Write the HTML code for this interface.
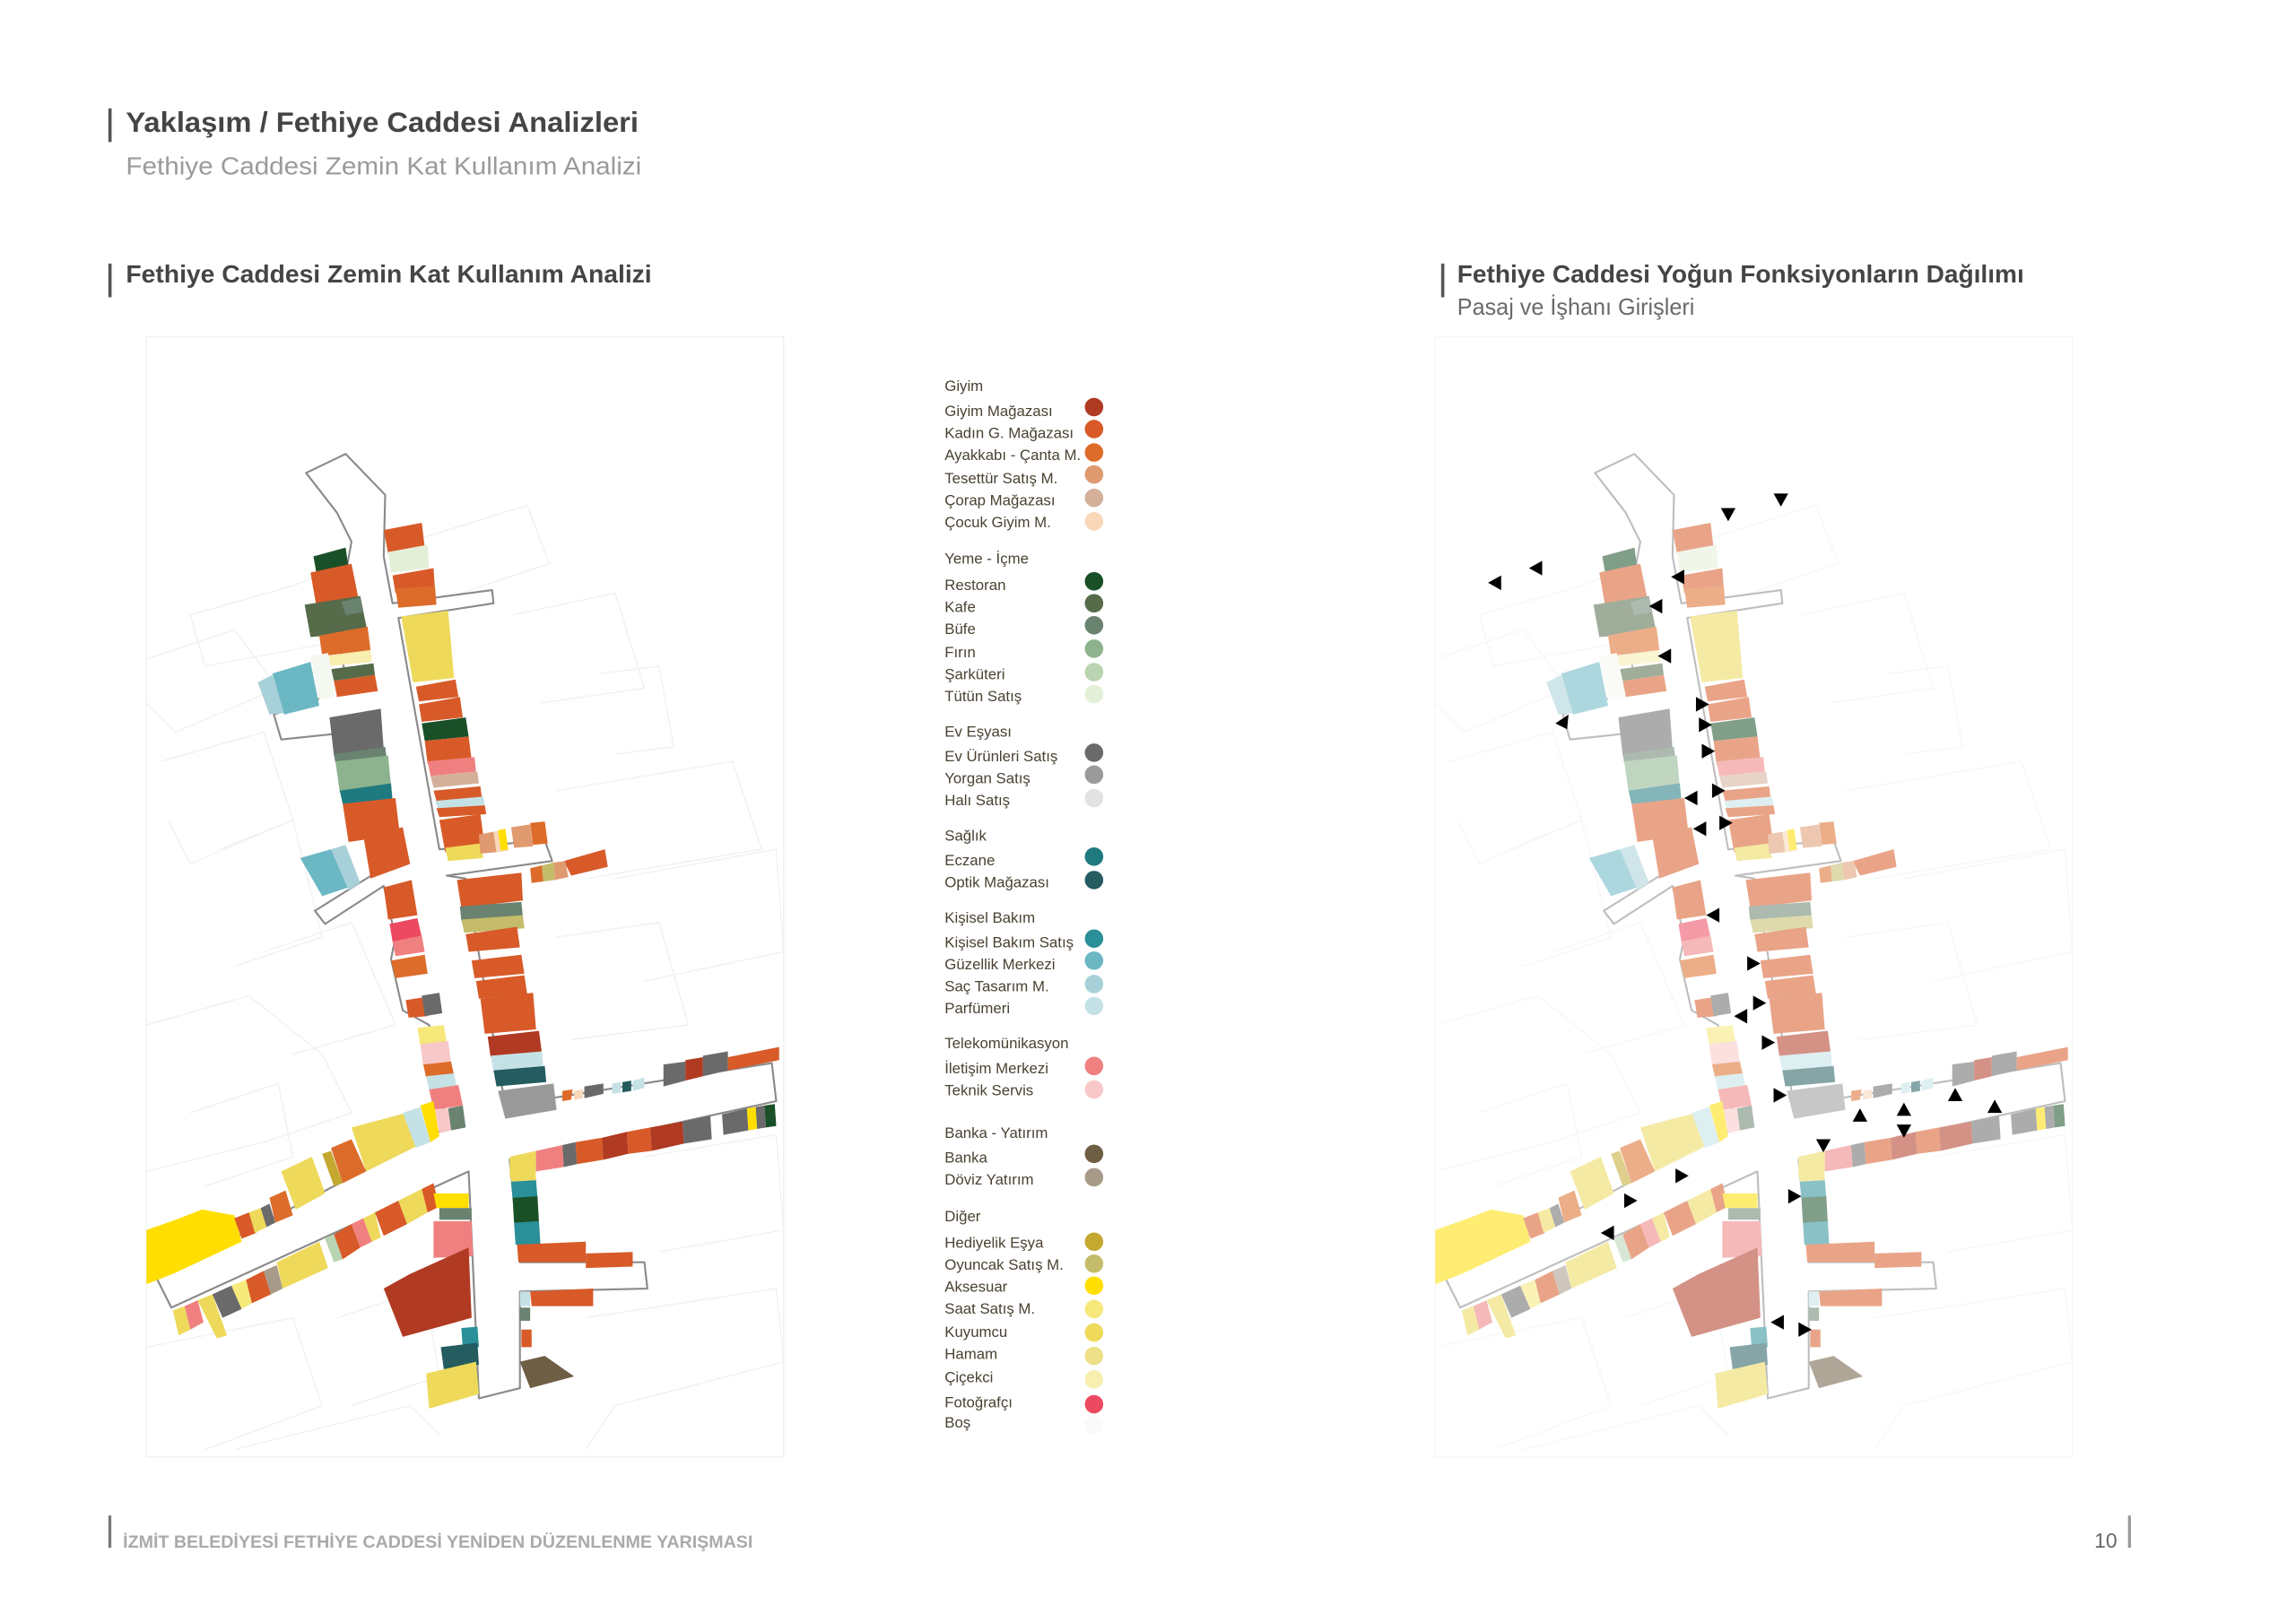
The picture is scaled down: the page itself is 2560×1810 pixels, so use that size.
<!DOCTYPE html>
<html><head><meta charset="utf-8">
<style>
html,body{margin:0;padding:0;background:#fff;}
svg{display:block;}
text{font-family:"Liberation Sans","DejaVu Sans",sans-serif;}
</style></head>
<body>
<svg width="2560" height="1810" viewBox="0 0 1567.7 1108.4" preserveAspectRatio="none" xmlns="http://www.w3.org/2000/svg">
<rect width="1567.7" height="1108.4" fill="#fff"/>
<rect x="74" y="74" width="2.2" height="23" fill="#555"/>
<text x="86" y="90" font-size="19.5" fill="#454545" font-weight="bold" textLength="350" lengthAdjust="spacingAndGlyphs">Yaklaşım / Fethiye Caddesi Analizleri</text>
<text x="86" y="119" font-size="17" fill="#9a9a9a" textLength="352" lengthAdjust="spacingAndGlyphs">Fethiye Caddesi Zemin Kat Kullanım Analizi</text>
<rect x="74" y="180" width="2.2" height="23" fill="#555"/>
<text x="86" y="193" font-size="17" fill="#454545" font-weight="bold" textLength="359" lengthAdjust="spacingAndGlyphs">Fethiye Caddesi Zemin Kat Kullanım Analizi</text>
<rect x="984" y="180" width="2.2" height="23" fill="#555"/>
<text x="995" y="193" font-size="17" fill="#454545" font-weight="bold" textLength="387" lengthAdjust="spacingAndGlyphs">Fethiye Caddesi Yoğun Fonksiyonların Dağılımı</text>
<text x="995" y="215" font-size="16" fill="#6a6a6a" textLength="162" lengthAdjust="spacingAndGlyphs">Pasaj ve İşhanı Girişleri</text>
<rect x="74" y="1035" width="2" height="22" fill="#777"/>
<text x="84" y="1057" font-size="12" fill="#aaa" font-weight="bold" textLength="430" lengthAdjust="spacingAndGlyphs">İZMİT BELEDİYESİ FETHİYE CADDESİ YENİDEN DÜZENLENME YARIŞMASI</text>
<text x="1430" y="1057" font-size="14" fill="#666">10</text>
<rect x="1453" y="1035" width="2" height="22" fill="#999"/>

<g font-size="10.3" fill="#4a4232">
<text x="645" y="267">Giyim</text>
<text x="645" y="284">Giyim Mağazası</text><circle cx="747" cy="278" r="6.3" fill="#b03a22"/>
<text x="645" y="299">Kadın G. Mağazası</text><circle cx="747" cy="293" r="6.3" fill="#d85a28"/>
<text x="645" y="314">Ayakkabı - Çanta M.</text><circle cx="747" cy="309" r="6.3" fill="#dd6c2a"/>
<text x="645" y="330">Tesettür Satış M.</text><circle cx="747" cy="324" r="6.3" fill="#e09a70"/>
<text x="645" y="345">Çorap Mağazası</text><circle cx="747" cy="340" r="6.3" fill="#d4b09a"/>
<text x="645" y="360">Çocuk Giyim M.</text><circle cx="747" cy="356" r="6.3" fill="#f8d8b8"/>
<text x="645" y="385">Yeme - İçme</text>
<text x="645" y="403">Restoran</text><circle cx="747" cy="397" r="6.3" fill="#1a5028"/>
<text x="645" y="418">Kafe</text><circle cx="747" cy="412" r="6.3" fill="#556b4a"/>
<text x="645" y="433">Büfe</text><circle cx="747" cy="427" r="6.3" fill="#6a8270"/>
<text x="645" y="449">Fırın</text><circle cx="747" cy="443" r="6.3" fill="#8db38e"/>
<text x="645" y="464">Şarküteri</text><circle cx="747" cy="459" r="6.3" fill="#b8d4b0"/>
<text x="645" y="479">Tütün Satış</text><circle cx="747" cy="474" r="6.3" fill="#e4efd8"/>
<text x="645" y="503">Ev Eşyası</text>
<text x="645" y="520">Ev Ürünleri Satış</text><circle cx="747" cy="514" r="6.3" fill="#6a6a6a"/>
<text x="645" y="535">Yorgan Satış</text><circle cx="747" cy="529" r="6.3" fill="#9a9a9a"/>
<text x="645" y="550">Halı Satış</text><circle cx="747" cy="545" r="6.3" fill="#e2e2e2"/>
<text x="645" y="574">Sağlık</text>
<text x="645" y="591">Eczane</text><circle cx="747" cy="585" r="6.3" fill="#1f7a80"/>
<text x="645" y="606">Optik Mağazası</text><circle cx="747" cy="601" r="6.3" fill="#245c60"/>
<text x="645" y="630">Kişisel Bakım</text>
<text x="645" y="647">Kişisel Bakım Satış</text><circle cx="747" cy="641" r="6.3" fill="#2a8f98"/>
<text x="645" y="662">Güzellik Merkezi</text><circle cx="747" cy="656" r="6.3" fill="#6bb8c4"/>
<text x="645" y="677">Saç Tasarım M.</text><circle cx="747" cy="672" r="6.3" fill="#a8d0d8"/>
<text x="645" y="692">Parfümeri</text><circle cx="747" cy="687" r="6.3" fill="#c4e2e6"/>
<text x="645" y="716">Telekomünikasyon</text>
<text x="645" y="733">İletişim Merkezi</text><circle cx="747" cy="728" r="6.3" fill="#f08080"/>
<text x="645" y="748">Teknik Servis</text><circle cx="747" cy="744" r="6.3" fill="#f8c8c8"/>
<text x="645" y="777">Banka - Yatırım</text>
<text x="645" y="794">Banka</text><circle cx="747" cy="788" r="6.3" fill="#6e5e44"/>
<text x="645" y="809">Döviz Yatırım</text><circle cx="747" cy="804" r="6.3" fill="#a89a88"/>
<text x="645" y="834">Diğer</text>
<text x="645" y="852">Hediyelik Eşya</text><circle cx="747" cy="848" r="6.3" fill="#c4a830"/>
<text x="645" y="867">Oyuncak Satış M.</text><circle cx="747" cy="863" r="6.3" fill="#c4bc6a"/>
<text x="645" y="882">Aksesuar</text><circle cx="747" cy="878" r="6.3" fill="#ffde00"/>
<text x="645" y="897">Saat Satış M.</text><circle cx="747" cy="894" r="6.3" fill="#f6e87a"/>
<text x="645" y="913">Kuyumcu</text><circle cx="747" cy="910" r="6.3" fill="#eed95a"/>
<text x="645" y="928">Hamam</text><circle cx="747" cy="926" r="6.3" fill="#ede088"/>
<text x="645" y="944">Çiçekci</text><circle cx="747" cy="942" r="6.3" fill="#f7eeb0"/>
<text x="645" y="961">Fotoğrafçı</text><circle cx="747" cy="959" r="6.3" fill="#ec4a60"/>
<text x="645" y="975">Boş</text><circle cx="747" cy="973" r="6.3" fill="#fafafa"/>
</g>

<defs>
<g id="map">
<g fill="none" stroke="#f0f0f0" stroke-width="0.8">
<rect x="100" y="230" width="435" height="765"/>
<polyline points="130,420 200,400 280,370 360,345 375,385 300,410 220,440 140,455 130,420"/>
<polyline points="100,450 160,430 190,470 120,500 100,480"/>
<polyline points="110,520 180,500 200,560 130,590 115,560"/>
<polyline points="150,580 200,560 220,640 160,660"/>
<polyline points="180,650 240,630 270,700 200,720"/>
<polyline points="350,420 420,405 440,470 370,480"/>
<polyline points="410,460 450,455 460,510 420,515"/>
<polyline points="380,540 500,520 520,580 400,600"/>
<polyline points="420,600 530,580 535,650 440,670"/>
<polyline points="380,640 450,630 470,700 390,710"/>
<polyline points="100,700 170,680 220,720 240,760 180,780 100,800"/>
<polyline points="130,760 190,740 200,790 140,810"/>
<polyline points="100,920 200,900 220,960 140,990"/>
<polyline points="160,990 280,960 300,980"/>
<polyline points="400,900 530,880 535,930 420,960 400,990"/>
<polyline points="440,790 530,775 535,840 450,855"/>
<polyline points="230,900 290,880 300,940 240,960"/>
</g>
<g fill="#fff" stroke="#8a8a8a" stroke-width="1.3" stroke-linejoin="round">
<polygon points="209,323 236,310 263,338 262,380 268,412 336,403 337,412 272,422 300,580 372,574 377,588 305,598 318,600 345,755 527,726 530,752 348,792 355,862 440,862 442,880 355,882 355,948 327,955 320,800 117,893 107,873 305,770 293,700 275,690 267,655 270,640 262,605 222,631 215,622 255,597 240,500 192,505 187,488 238,470 229,430 240,370 230,350"/>
</g>
<g stroke="none">
<polygon fill="#1a5028" points="214,380 236,374 238,388 216,391"/>
<polygon fill="#d85a28" points="212,391 240,385 245,410 216,414"/>
<polygon fill="#556b4a" points="208,413 246,407 251,432 212,435"/>
<polygon fill="#6a8270" points="233,411 246,408 248,418 236,420"/>
<polygon fill="#dd6c2a" points="218,434 251,428 253,444 220,448"/>
<polygon fill="#f7eeb0" points="222,448 253,444 254,452 224,455"/>
<polygon fill="#556b4a" points="226,457 255,453 256,461 228,465"/>
<polygon fill="#d85a28" points="228,465 256,461 258,472 230,476"/>
<polygon fill="#6bb8c4" points="186,460 212,452 218,482 194,488"/>
<polygon fill="#a8d0d8" points="176,466 186,461 194,487 184,488"/>
<polygon fill="#f6f8f2" points="212,448 224,446 230,475 218,478"/>
<polygon fill="#d85a28" points="262,362 288,357 290,374 265,378"/>
<polygon fill="#e4efd8" points="265,377 292,372 293,388 267,391"/>
<polygon fill="#d85a28" points="268,393 296,388 297,402 270,405"/>
<polygon fill="#dd6c2a" points="270,402 297,400 298,413 272,415"/>
<polygon fill="#eed95a" points="274,421 306,417 310,463 282,466"/>
<polygon fill="#d85a28" points="284,469 311,464 313,476 286,479"/>
<polygon fill="#d85a28" points="286,481 314,476 316,490 288,493"/>
<polygon fill="#1a5028" points="288,494 318,490 320,503 290,506"/>
<polygon fill="#d85a28" points="290,506 320,503 322,519 292,522"/>
<polygon fill="#f08080" points="292,520 324,517 325,527 294,530"/>
<polygon fill="#d4b09a" points="294,530 326,527 327,535 296,538"/>
<polygon fill="#d85a28" points="296,540 328,537 329,545 298,547"/>
<polygon fill="#c4e2e6" points="297,547 330,544 331,550 299,552"/>
<polygon fill="#d85a28" points="298,552 331,550 332,556 300,558"/>
<polygon fill="#d85a28" points="300,560 328,556 331,578 304,582"/>
<polygon fill="#eed95a" points="304,579 328,576 330,586 306,588"/>
<polygon fill="#e09a70" points="327,570 337,568 339,582 328,583"/>
<polygon fill="#f8d8b8" points="337,568 345,567 347,581 339,582"/>
<polygon fill="#ffde00" points="340,567 345,566 347,580 342,581"/>
<polygon fill="#e09a70" points="349,565 362,563 364,578 351,579"/>
<polygon fill="#dd6c2a" points="362,562 372,561 374,576 364,577"/>
<polygon fill="#6a6a6a" points="225,490 260,484 262,512 228,516"/>
<polygon fill="#6a8270" points="228,515 263,510 264,518 229,521"/>
<polygon fill="#8db38e" points="229,520 265,516 267,537 232,541"/>
<polygon fill="#1f7a80" points="232,540 267,535 268,546 234,549"/>
<polygon fill="#d85a28" points="234,549 270,545 273,570 238,575"/>
<polygon fill="#d85a28" points="248,570 275,565 280,590 253,600"/>
<polygon fill="#6bb8c4" points="205,586 226,580 238,606 220,612"/>
<polygon fill="#a8d0d8" points="226,580 236,577 246,603 238,608"/>
<polygon fill="#d85a28" points="385,588 413,580 415,592 390,598"/>
<polygon fill="#dd6c2a" points="362,593 370,591 371,602 363,603"/>
<polygon fill="#c4bc6a" points="370,591 378,589 379,601 371,602"/>
<polygon fill="#e09a70" points="378,589 386,588 388,599 379,601"/>
<polygon fill="#d85a28" points="312,601 356,596 357,615 315,620"/>
<polygon fill="#6a8270" points="314,619 356,616 357,626 315,629"/>
<polygon fill="#c4bc6a" points="315,628 357,625 358,634 317,637"/>
<polygon fill="#d85a28" points="318,638 353,633 355,647 320,650"/>
<polygon fill="#d85a28" points="322,656 356,652 358,665 324,668"/>
<polygon fill="#d85a28" points="325,670 358,666 360,679 327,682"/>
<polygon fill="#d85a28" points="328,682 364,678 366,703 331,706"/>
<polygon fill="#b03a22" points="333,708 368,704 370,719 335,722"/>
<polygon fill="#c4e2e6" points="335,721 370,718 371,729 337,732"/>
<polygon fill="#245c60" points="337,731 372,728 373,739 339,742"/>
<polygon fill="#9a9a9a" points="340,745 378,740 380,758 345,764"/>
<polygon fill="#d85a28" points="262,606 281,601 285,625 265,628"/>
<polygon fill="#ec4a60" points="266,631 285,627 288,640 268,643"/>
<polygon fill="#f08080" points="268,643 288,639 290,650 270,653"/>
<polygon fill="#dd6c2a" points="267,656 290,652 292,665 270,668"/>
<polygon fill="#d85a28" points="277,683 290,681 292,694 279,695"/>
<polygon fill="#6a6a6a" points="288,680 300,678 302,692 290,694"/>
<polygon fill="#f6e87a" points="285,702 303,700 305,712 287,714"/>
<polygon fill="#f8c8c8" points="287,713 306,711 308,726 289,728"/>
<polygon fill="#dd6c2a" points="289,727 308,725 310,734 291,736"/>
<polygon fill="#c4e2e6" points="291,735 310,733 312,743 293,745"/>
<polygon fill="#f08080" points="293,744 313,741 316,755 296,758"/>
<polygon fill="#6a8270" points="306,757 316,755 318,770 308,772"/>
<polygon fill="#f8c8c8" points="297,758 306,757 308,772 300,774"/>
<polygon fill="#dd6c2a" points="384,752 390,751 391,744 384,745"/>
<polygon fill="#f8d8b8" points="392,751 398,750 398,744 392,745"/>
<polygon fill="#6a6a6a" points="399,750 412,747 412,740 399,742"/>
<polygon fill="#c4e2e6" points="418,747 424,746 424,739 418,740"/>
<polygon fill="#245c60" points="425,746 431,745 431,738 425,739"/>
<polygon fill="#c4e2e6" points="432,745 440,743 440,736 432,738"/>
<polygon fill="#6a6a6a" points="453,742 468,738 468,725 453,727"/>
<polygon fill="#b03a22" points="468,738 480,735 480,722 468,724"/>
<polygon fill="#6a6a6a" points="480,735 497,731 497,718 480,721"/>
<polygon fill="#d85a28" points="497,731 532,724 532,715 497,722"/>
<polygon fill="#eed95a" points="348,790 366,786 366,800 348,804"/>
<polygon fill="#f08080" points="366,786 384,782 385,797 366,800"/>
<polygon fill="#6a6a6a" points="384,782 393,780 394,795 385,797"/>
<polygon fill="#d85a28" points="393,780 411,777 412,792 394,795"/>
<polygon fill="#b03a22" points="411,777 428,773 429,788 412,792"/>
<polygon fill="#d85a28" points="428,773 444,770 445,786 429,788"/>
<polygon fill="#b03a22" points="444,770 466,766 467,781 445,786"/>
<polygon fill="#6a6a6a" points="466,766 485,762 486,778 467,781"/>
<polygon fill="#6a6a6a" points="493,761 510,757 511,772 494,775"/>
<polygon fill="#ffde00" points="510,757 516,756 517,771 511,772"/>
<polygon fill="#6a6a6a" points="516,756 522,755 523,770 517,771"/>
<polygon fill="#1a5028" points="522,755 529,754 530,769 523,770"/>
<polygon fill="#ffde00" points="100,840 120,833 138,826 160,830 165,848 118,870 100,877"/>
<polygon fill="#d85a28" points="160,832 170,828 175,842 165,846"/>
<polygon fill="#eed95a" points="170,828 178,825 182,838 174,842"/>
<polygon fill="#6a6a6a" points="178,825 184,822 188,835 182,838"/>
<polygon fill="#dd6c2a" points="184,818 195,813 200,830 188,835"/>
<polygon fill="#eed95a" points="192,800 213,790 222,815 202,826"/>
<polygon fill="#c4a830" points="220,788 226,786 234,808 228,810"/>
<polygon fill="#dd6c2a" points="226,784 240,778 250,800 234,808"/>
<polygon fill="#eed95a" points="240,770 270,762 285,758 290,780 250,800"/>
<polygon fill="#c4e2e6" points="275,760 287,756 294,780 284,784"/>
<polygon fill="#ffde00" points="287,755 296,752 300,776 294,780"/>
<polygon fill="#eed95a" points="118,895 126,892 130,908 122,912"/>
<polygon fill="#f08080" points="126,892 135,888 139,903 130,908"/>
<polygon fill="#eed95a" points="135,888 145,884 155,912 148,914"/>
<polygon fill="#6a6a6a" points="145,884 158,878 165,894 152,900"/>
<polygon fill="#f6e87a" points="158,878 168,874 172,890 165,894"/>
<polygon fill="#d85a28" points="168,874 180,868 185,884 172,890"/>
<polygon fill="#a89a88" points="180,868 189,864 193,880 185,884"/>
<polygon fill="#eed95a" points="189,862 218,848 224,866 193,880"/>
<polygon fill="#b8d4b0" points="222,846 228,843 234,860 228,862"/>
<polygon fill="#d85a28" points="228,843 240,836 246,852 234,860"/>
<polygon fill="#f08080" points="240,836 248,832 254,848 246,852"/>
<polygon fill="#eed95a" points="248,832 256,828 260,845 254,848"/>
<polygon fill="#d85a28" points="256,828 272,820 278,836 262,844"/>
<polygon fill="#eed95a" points="272,820 288,812 292,828 278,836"/>
<polygon fill="#d85a28" points="288,812 296,808 300,824 292,828"/>
<polygon fill="#ffde00" points="296,815 320,815 320,825 298,825"/>
<polygon fill="#6a8270" points="300,825 322,825 322,833 300,833"/>
<polygon fill="#f08080" points="296,834 322,834 323,858 296,859"/>
<polygon fill="#b03a22" points="262,880 280,870 320,852 322,900 275,913"/>
<polygon fill="#2a8f98" points="315,907 326,906 327,920 316,921"/>
<polygon fill="#245c60" points="301,920 326,917 327,932 303,935"/>
<polygon fill="#eed95a" points="291,938 325,930 327,952 293,962"/>
<polygon fill="#6e5e44" points="355,930 372,926 392,940 362,948"/>
<polygon fill="#eed95a" points="348,792 365,790 366,806 349,807"/>
<polygon fill="#2a8f98" points="349,807 366,806 367,818 350,819"/>
<polygon fill="#1a5028" points="350,818 367,817 368,835 351,835"/>
<polygon fill="#2a8f98" points="351,835 368,834 369,850 352,850"/>
<polygon fill="#d85a28" points="353,850 400,848 400,862 354,862"/>
<polygon fill="#d85a28" points="400,856 432,855 432,865 400,866"/>
<polygon fill="#d85a28" points="362,882 405,880 405,892 363,892"/>
<polygon fill="#c4e2e6" points="355,882 362,882 362,892 355,892"/>
<polygon fill="#6a8270" points="355,893 362,893 362,902 355,902"/>
<polygon fill="#d85a28" points="356,908 363,908 363,920 356,920"/>
</g>
</g>
</defs>

<use href="#map"/>
<g opacity="0.55"><use href="#map" transform="translate(880,0)"/></g>

<g fill="#000">
<polygon points="1175,347 1185,347 1180,356"/>
<polygon points="1211,337 1221,337 1216,346"/>
<polygon points="1016,398 1025,393 1025,403"/>
<polygon points="1044,388 1053,383 1053,393"/>
<polygon points="1126,414 1135,409 1135,419"/>
<polygon points="1141,394 1150,389 1150,399"/>
<polygon points="1132,448 1141,443 1141,453"/>
<polygon points="1158,476 1167,481 1158,486"/>
<polygon points="1160,490 1169,495 1160,500"/>
<polygon points="1062,494 1071,488 1070,498"/>
<polygon points="1162,508 1171,513 1162,518"/>
<polygon points="1150,545 1159,540 1159,550"/>
<polygon points="1169,535 1178,540 1169,545"/>
<polygon points="1156,566 1165,561 1165,571"/>
<polygon points="1174,557 1183,562 1174,567"/>
<polygon points="1165,625 1174,620 1174,630"/>
<polygon points="1193,653 1202,658 1193,663"/>
<polygon points="1184,694 1193,689 1193,699"/>
<polygon points="1197,680 1206,685 1197,690"/>
<polygon points="1203,707 1212,712 1203,717"/>
<polygon points="1211,743 1220,748 1211,753"/>
<polygon points="1240,778 1250,778 1245,787"/>
<polygon points="1265,766 1275,766 1270,757"/>
<polygon points="1295,762 1305,762 1300,753"/>
<polygon points="1295,768 1305,768 1300,777"/>
<polygon points="1330,752 1340,752 1335,743"/>
<polygon points="1357,760 1367,760 1362,751"/>
<polygon points="1144,798 1153,803 1144,808"/>
<polygon points="1109,815 1118,820 1109,825"/>
<polygon points="1093,842 1102,837 1102,847"/>
<polygon points="1221,812 1230,817 1221,822"/>
<polygon points="1209,903 1218,898 1218,908"/>
<polygon points="1228,903 1237,908 1228,913"/>
</g>
</svg>
</body></html>
